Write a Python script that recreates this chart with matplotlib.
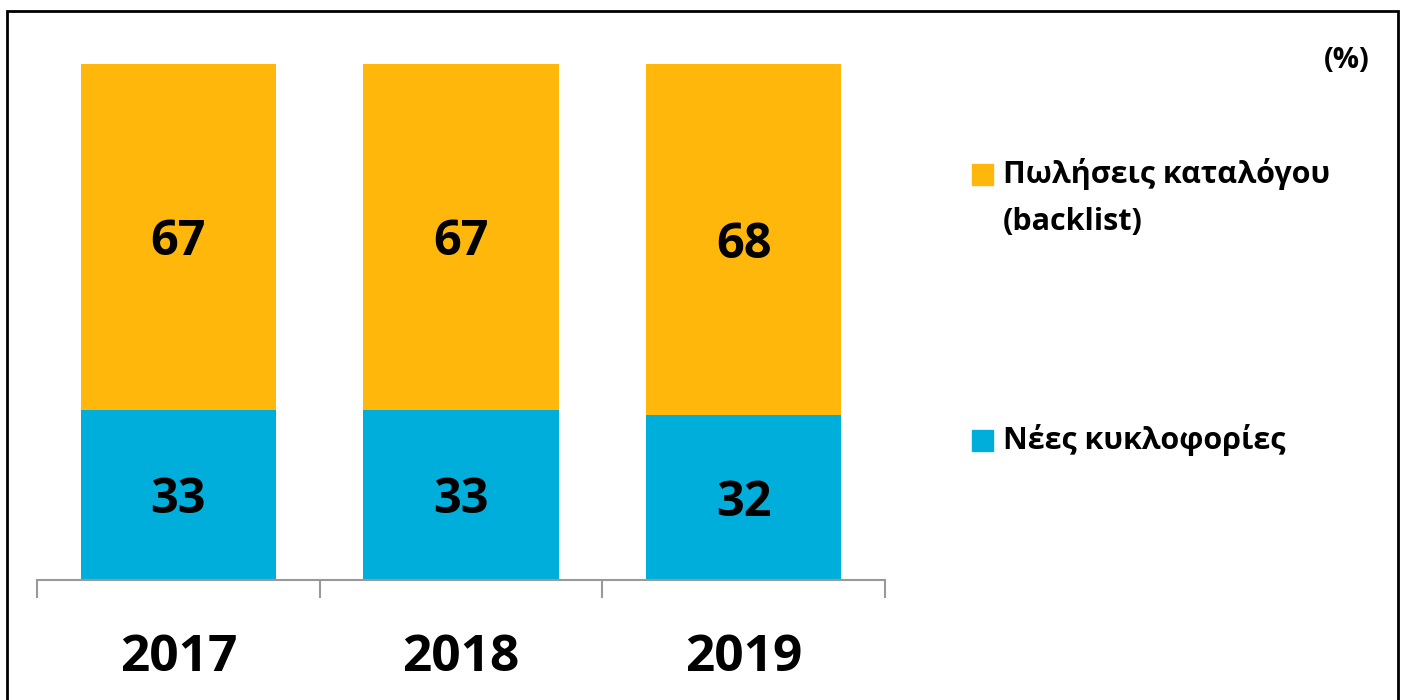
import matplotlib
matplotlib.use('agg')
import matplotlib.pyplot as plt
from matplotlib.patches import Rectangle

plt.rcParams['font.family'] = ['Open Sans', 'DejaVu Sans']
plt.rcParams['font.weight'] = 'bold'

# 数据
years = ['2017', '2018', '2019']
new_releases = [33, 33, 32]
backlist = [67, 67, 68]
series_labels = ['Νέες κυκλοφορίες', 'Πωλήσεις καταλόγου\n(backlist)']
colors = ['#00AEDB', '#FFB70B']

W, H = 1403, 700
fig = plt.figure(figsize=(W / 100, H / 100), dpi=100)
ax = fig.add_axes([37 / W, 1 - 580 / H, 848 / W, 516 / H])

x = range(len(years))
b1 = ax.bar(x, new_releases, width=0.69, color=colors[0])
b2 = ax.bar(x, backlist, width=0.69, bottom=new_releases, color=colors[1])
for bars in (b1, b2):
    for t in ax.bar_label(bars, label_type='center', fontsize=35, fontweight='bold'):
        t.set_va('center_baseline')

ax.set_xlim(-0.5, 2.5)
ax.set_ylim(0, 100)
for s in ['top', 'right', 'left']:
    ax.spines[s].set_visible(False)
ax.spines['bottom'].set_color('#999999')
ax.spines['bottom'].set_linewidth(1.5)
ax.set_yticks([])
ax.set_xticks(list(x))
ax.set_xticklabels(years, fontsize=37, fontweight='bold')
ax.tick_params(axis='x', which='major', length=0, pad=38)
ax.set_xticks([-0.5, 0.5, 1.5, 2.5], minor=True)
ax.tick_params(axis='x', which='minor', length=13, width=1.5, color='#999999')

# 图例 (手动绘制)
sq = 21
legend_items = [(colors[1], series_labels[1], 164), (colors[0], series_labels[0], 430)]
for c, lab, ytop in legend_items:
    fig.patches.append(Rectangle((972 / W, 1 - (ytop + sq) / H), sq / W, sq / H,
                                 transform=fig.transFigure, color=c))
    fig.text(1003 / W, 1 - (ytop - 6) / H, lab, fontsize=22, fontweight='bold',
             va='top', ha='left', linespacing=1.75)

fig.text(1370 / W, 1 - 60 / H, '(%)', fontsize=21, fontweight='bold', ha='right', va='center')

# 外框
fig.patches.append(Rectangle((7 / W, -0.05), 1391 / W, 1.05 - 11 / H, transform=fig.transFigure,
                             fill=False, edgecolor='black', linewidth=2))

plt.savefig('out.png', dpi=100)
